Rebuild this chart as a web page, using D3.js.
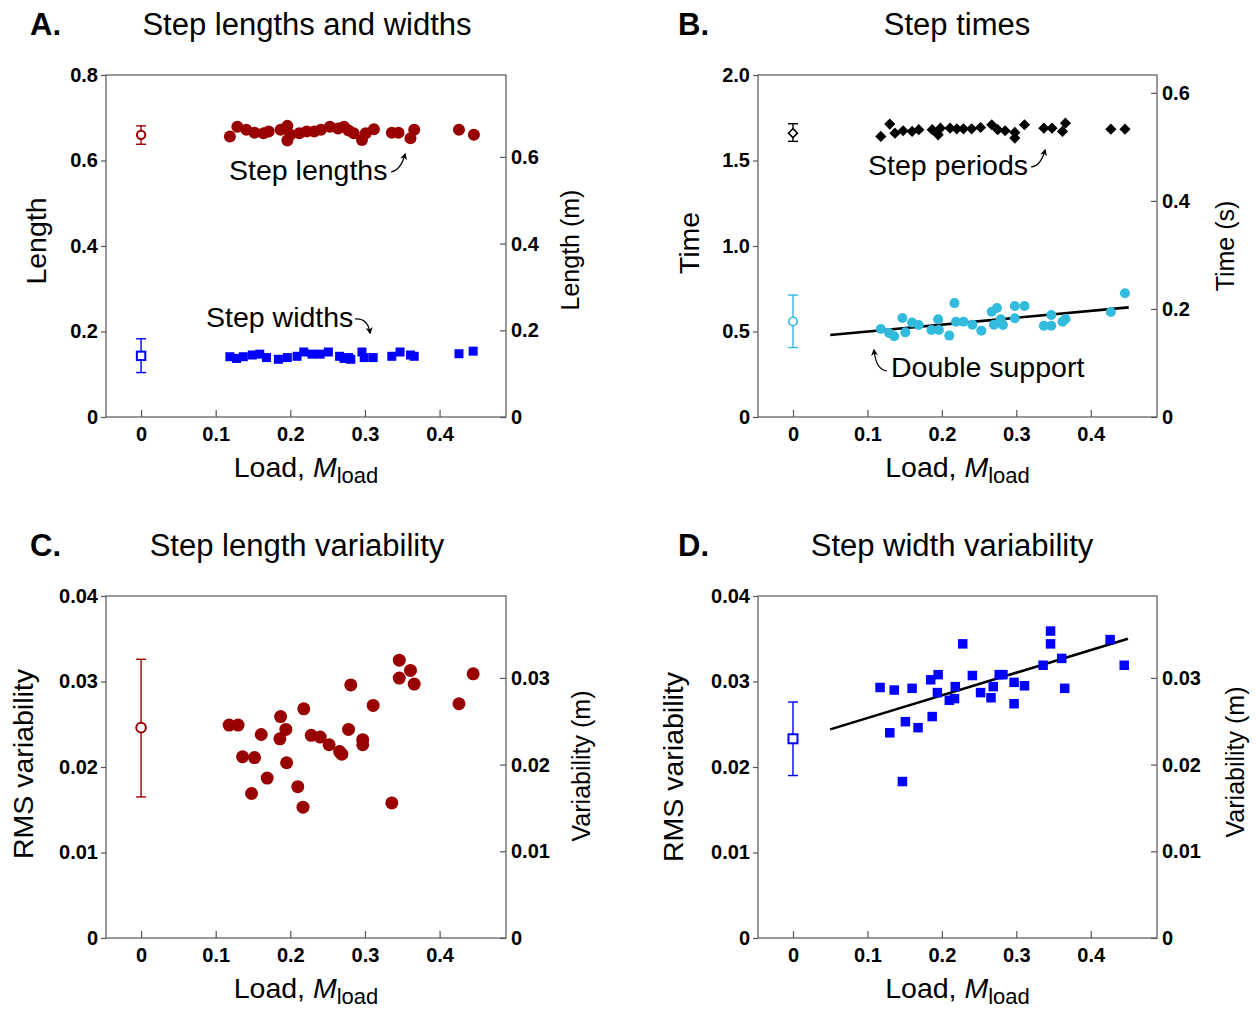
<!DOCTYPE html>
<html>
<head>
<meta charset="utf-8">
<script src="https://cdn.jsdelivr.net/npm/d3@7"></script>
<style>
  html, body { margin: 0; padding: 0; background: #fff; }
  svg { display: block; font-family: "Liberation Sans", Arial, Helvetica, sans-serif; }
</style>
</head>
<body>
<svg id="chart" width="1256" height="1009"></svg>
<script>
// ---------------- Data ----------------
// Panel A: step lengths (normalized) vs load
const lenLoad = [0.119,0.129,0.141,0.152,0.164,0.171,0.187,0.196,0.196,0.200,0.212,0.222,0.232,0.241,0.253,0.264,0.272,0.278,0.285,0.296,0.301,0.312,0.336,0.345,0.361,0.366,0.426,0.446];
const lenVal  = [0.656,0.679,0.672,0.665,0.664,0.668,0.672,0.681,0.647,0.660,0.664,0.668,0.668,0.672,0.679,0.675,0.679,0.670,0.664,0.648,0.664,0.673,0.665,0.665,0.652,0.672,0.672,0.660];
const lenRef  = {mean: 0.660, lo: 0.638, hi: 0.681};
// Panel A: step widths
const widLoad = [0.119,0.128,0.137,0.149,0.159,0.168,0.184,0.196,0.209,0.218,0.229,0.240,0.251,0.266,0.272,0.278,0.281,0.296,0.299,0.311,0.336,0.347,0.361,0.366,0.426,0.445];
const widVal  = [0.141,0.137,0.141,0.145,0.147,0.139,0.135,0.139,0.142,0.152,0.147,0.147,0.152,0.142,0.137,0.139,0.135,0.152,0.139,0.139,0.142,0.152,0.145,0.142,0.148,0.154];
const widRef  = {mean: 0.143, lo: 0.104, hi: 0.183};

// Panel B: step periods
const perLoad = [0.118,0.130,0.137,0.148,0.160,0.169,0.187,0.195,0.198,0.211,0.220,0.229,0.240,0.252,0.267,0.275,0.285,0.298,0.298,0.311,0.337,0.348,0.362,0.366,0.427,0.446];
const perVal  = [1.641,1.713,1.660,1.674,1.670,1.680,1.680,1.650,1.689,1.689,1.685,1.685,1.685,1.693,1.709,1.680,1.674,1.631,1.664,1.709,1.689,1.689,1.670,1.718,1.683,1.683];
const perRef  = {mean: 1.660, lo: 1.612, hi: 1.715};
// Panel B: double support time
const dsLoad = [0.118,0.129,0.136,0.151,0.147,0.160,0.169,0.186,0.196,0.195,0.210,0.217,0.219,0.229,0.241,0.253,0.267,0.274,0.270,0.279,0.282,0.298,0.298,0.311,0.337,0.347,0.347,0.362,0.366,0.427,0.446];
const dsVal  = [0.515,0.491,0.472,0.495,0.579,0.553,0.538,0.509,0.509,0.571,0.476,0.666,0.557,0.557,0.540,0.505,0.616,0.637,0.540,0.571,0.538,0.649,0.577,0.649,0.534,0.534,0.596,0.557,0.573,0.614,0.724];
const dsRef  = {mean: 0.559, lo: 0.406, hi: 0.713};
const dsFit  = [[0.05, 0.480], [0.451, 0.641]];

// Panel C: step length variability
const lvLoad = [0.118,0.130,0.136,0.152,0.148,0.161,0.169,0.187,0.194,0.186,0.195,0.210,0.217,0.218,0.228,0.240,0.252,0.266,0.269,0.278,0.281,0.297,0.297,0.311,0.336,0.346,0.346,0.361,0.366,0.426,0.445];
const lvVal  = [0.0249,0.0249,0.0212,0.0211,0.0169,0.0238,0.0187,0.0259,0.0244,0.0233,0.0205,0.0177,0.0153,0.0268,0.0237,0.0235,0.0226,0.0218,0.0215,0.0244,0.0296,0.0232,0.0226,0.0272,0.0158,0.0325,0.0304,0.0313,0.0297,0.0274,0.0309];
const lvRef  = {mean: 0.0246, lo: 0.0165, hi: 0.0326};

// Panel D: step width variability
const wvLoad = [0.117,0.130,0.136,0.147,0.151,0.160,0.168,0.185,0.187,0.195,0.194,0.210,0.217,0.218,0.228,0.241,0.252,0.266,0.269,0.277,0.282,0.297,0.297,0.311,0.336,0.346,0.346,0.361,0.365,0.426,0.445];
const wvVal  = [0.0293,0.0240,0.0290,0.0183,0.0253,0.0292,0.0246,0.0302,0.0259,0.0308,0.0287,0.0278,0.0280,0.0294,0.0344,0.0307,0.0287,0.0281,0.0294,0.0308,0.0308,0.0299,0.0274,0.0295,0.0319,0.0359,0.0344,0.0327,0.0292,0.0349,0.0319];
const wvRef  = {mean: 0.0233, lo: 0.0190, hi: 0.0276};
const wvFit  = [[0.05, 0.0244], [0.45, 0.0350]];

const xTicks = [0, 0.1, 0.2, 0.3, 0.4];

// ---------------- Drawing helpers ----------------
const svg = d3.select("#chart");
const AXIS_COL = "#555";
const RED = "#990000", BLUE = "#0000ff", CYAN = "#33bbdd", BLACK = "#000";

function panel(cfg) {
  const g = svg.append("g");
  const x = d3.scaleLinear().domain([-0.047, 0.489]).range([cfg.left, cfg.right]);
  const y = d3.scaleLinear().domain(cfg.yDomain).range([cfg.bottom, cfg.top]);
  const y2 = d3.scaleLinear().domain(cfg.y2Domain).range([cfg.bottom, cfg.top]);

  // frame
  g.append("rect")
    .attr("x", cfg.left).attr("y", cfg.top)
    .attr("width", cfg.right - cfg.left).attr("height", cfg.bottom - cfg.top)
    .attr("fill", "none").attr("stroke", AXIS_COL).attr("stroke-width", 1.2);

  // bottom axis (ticks point inward)
  const xa = g.append("g").attr("transform", `translate(0,${cfg.bottom})`)
    .call(d3.axisBottom(x).tickValues(xTicks).tickSizeInner(-7).tickSizeOuter(0)
      .tickFormat(d => d === 0 ? "0" : d3.format(".1f")(d)));
  xa.select(".domain").remove();
  xa.selectAll(".tick line").attr("stroke", AXIS_COL).attr("stroke-width", 1.2);
  xa.selectAll(".tick text").attr("y", 10).attr("dy", "0.71em");

  // left axis (ticks outward)
  const ya = g.append("g").attr("transform", `translate(${cfg.left},0)`)
    .call(d3.axisLeft(y).tickValues(cfg.yTicks).tickSizeInner(5).tickSizeOuter(0)
      .tickFormat(cfg.yFmt));
  ya.select(".domain").remove();
  ya.selectAll(".tick line").attr("stroke", AXIS_COL).attr("stroke-width", 1.2);
  ya.selectAll(".tick text").attr("x", -8);

  // right axis (ticks inward)
  const y2a = g.append("g").attr("transform", `translate(${cfg.right},0)`)
    .call(d3.axisRight(y2).tickValues(cfg.y2Ticks).tickSizeInner(-6).tickSizeOuter(0)
      .tickFormat(cfg.y2Fmt));
  y2a.select(".domain").remove();
  y2a.selectAll(".tick line").attr("stroke", AXIS_COL).attr("stroke-width", 1.2);
  y2a.selectAll(".tick text").attr("x", 5);

  g.selectAll(".tick text")
    .attr("font-family", "'Liberation Sans', Arial, sans-serif")
    .attr("font-size", 20).attr("font-weight", "bold").attr("fill", "#000");

  // titles and labels
  g.append("text").attr("x", cfg.letterX).attr("y", cfg.top - 40)
    .attr("font-size", 31).attr("font-weight", "bold").text(cfg.letter);
  g.append("text").attr("x", cfg.titleX).attr("y", cfg.top - 40)
    .attr("text-anchor", "middle").attr("font-size", 31).text(cfg.title);

  g.append("text")
    .attr("transform", `translate(${cfg.yLabelX},${cfg.yLabelY}) rotate(-90)`)
    .attr("text-anchor", "middle").attr("font-size", 28.5).text(cfg.yLabel);
  g.append("text")
    .attr("transform", `translate(${cfg.y2LabelX},${cfg.y2LabelY}) rotate(-90)`)
    .attr("text-anchor", "middle").attr("font-size", 25).text(cfg.y2Label);

  const xl = g.append("text").attr("x", (cfg.left + cfg.right) / 2).attr("y", cfg.bottom + 60)
    .attr("text-anchor", "middle").attr("font-size", 28.5);
  xl.append("tspan").text("Load, ");
  xl.append("tspan").attr("font-style", "italic").text("M");
  xl.append("tspan").attr("font-size", 22).attr("dy", 6).text("load");

  return {g, x, y};
}

function errorRef(p, ref, color) {
  const cx = p.x(0);
  const g = p.g.append("g").attr("stroke", color).attr("stroke-width", 1.4);
  g.append("line").attr("x1", cx).attr("x2", cx).attr("y1", p.y(ref.lo)).attr("y2", p.y(ref.hi));
  g.append("line").attr("x1", cx - 5).attr("x2", cx + 5).attr("y1", p.y(ref.lo)).attr("y2", p.y(ref.lo));
  g.append("line").attr("x1", cx - 5).attr("x2", cx + 5).attr("y1", p.y(ref.hi)).attr("y2", p.y(ref.hi));
}

function circles(p, xs, ys, color, r) {
  p.g.append("g").selectAll("circle").data(xs.map((d, i) => [d, ys[i]])).join("circle")
    .attr("cx", d => p.x(d[0])).attr("cy", d => p.y(d[1])).attr("r", r).attr("fill", color);
}
function squares(p, xs, ys, color, s) {
  p.g.append("g").selectAll("rect").data(xs.map((d, i) => [d, ys[i]])).join("rect")
    .attr("x", d => p.x(d[0]) - s / 2).attr("y", d => p.y(d[1]) - s / 2)
    .attr("width", s).attr("height", s).attr("fill", color);
}
function diamondPath(cx, cy, h) {
  return `M${cx},${cy - h}L${cx + h},${cy}L${cx},${cy + h}L${cx - h},${cy}Z`;
}
function diamonds(p, xs, ys, color, h) {
  p.g.append("g").selectAll("path").data(xs.map((d, i) => [d, ys[i]])).join("path")
    .attr("d", d => diamondPath(p.x(d[0]), p.y(d[1]), h)).attr("fill", color);
}
function fitLine(p, pts) {
  p.g.append("path").datum(pts)
    .attr("d", d3.line().x(d => p.x(d[0])).y(d => p.y(d[1])))
    .attr("stroke", "#000").attr("stroke-width", 2.6).attr("fill", "none");
}

// arrow marker for annotations
svg.append("defs").append("marker")
  .attr("id", "ah").attr("viewBox", "0 0 10 10").attr("refX", 8).attr("refY", 5)
  .attr("markerWidth", 7).attr("markerHeight", 7).attr("orient", "auto-start-reverse")
  .attr("markerUnits", "userSpaceOnUse")
  .append("path").attr("d", "M0,0L10,5L0,10L3,5Z").attr("fill", "#000");

function note(g, x, y, txt, arrowD) {
  g.append("text").attr("x", x).attr("y", y).attr("font-size", 28.5).text(txt);
  g.append("path").attr("d", arrowD).attr("fill", "none").attr("stroke", "#000")
    .attr("stroke-width", 1.2).attr("marker-end", "url(#ah)");
}

// ---------------- Panel A ----------------
const pA = panel({
  left: 106, right: 506, top: 75, bottom: 417,
  yDomain: [0, 0.8], yTicks: [0, 0.2, 0.4, 0.6, 0.8], yFmt: d => d === 0 ? "0" : d3.format(".1f")(d),
  y2Domain: [0, 0.789], y2Ticks: [0, 0.2, 0.4, 0.6], y2Fmt: d => d === 0 ? "0" : d3.format(".1f")(d),
  letter: "A.", letterX: 30, title: "Step lengths and widths", titleX: 307,
  yLabel: "Length", yLabelX: 46, yLabelY: 241,
  y2Label: "Length (m)", y2LabelX: 579, y2LabelY: 250
});
errorRef(pA, lenRef, RED);
errorRef(pA, widRef, BLUE);
circles(pA, lenLoad, lenVal, RED, 6);
squares(pA, widLoad, widVal, BLUE, 9);
pA.g.append("circle").attr("cx", pA.x(0)).attr("cy", pA.y(lenRef.mean)).attr("r", 4.2)
  .attr("fill", "#fff").attr("stroke", RED).attr("stroke-width", 2);
pA.g.append("rect").attr("x", pA.x(0) - 4.2).attr("y", pA.y(widRef.mean) - 4.2).attr("width", 8.4).attr("height", 8.4)
  .attr("fill", "#fff").attr("stroke", BLUE).attr("stroke-width", 2);
note(pA.g, 229, 180, "Step lengths", "M391,172 Q401,170 405,154");
note(pA.g, 206, 327, "Step widths", "M355,319 Q368,318 370,333");

// ---------------- Panel B ----------------
const pB = panel({
  left: 758, right: 1157, top: 75, bottom: 417,
  yDomain: [0, 2], yTicks: [0, 0.5, 1, 1.5, 2], yFmt: d => d === 0 ? "0" : d3.format(".1f")(d),
  y2Domain: [0, 0.633], y2Ticks: [0, 0.2, 0.4, 0.6], y2Fmt: d => d === 0 ? "0" : d3.format(".1f")(d),
  letter: "B.", letterX: 678, title: "Step times", titleX: 957,
  yLabelX: 699, yLabelY: 243, yLabel: "Time",
  y2Label: "Time (s)", y2LabelX: 1234, y2LabelY: 246
});
errorRef(pB, perRef, BLACK);
errorRef(pB, dsRef, CYAN);
fitLine(pB, dsFit);
circles(pB, dsLoad, dsVal, CYAN, 5);
diamonds(pB, perLoad, perVal, BLACK, 5.6);
pB.g.append("path").attr("d", diamondPath(pB.x(0), pB.y(perRef.mean), 4.5))
  .attr("fill", "#fff").attr("stroke", BLACK).attr("stroke-width", 1.5);
pB.g.append("circle").attr("cx", pB.x(0)).attr("cy", pB.y(dsRef.mean)).attr("r", 4.2)
  .attr("fill", "#fff").attr("stroke", CYAN).attr("stroke-width", 1.6);
note(pB.g, 868, 175, "Step periods", "M1031,167 Q1041,166 1045,150");
note(pB.g, 891, 377, "Double support", "M887,371 Q876,370 874,350");

// ---------------- Panel C ----------------
const vFmt = d => d === 0 ? "0" : d3.format(".2f")(d);
const pC = panel({
  left: 106, right: 506, top: 596, bottom: 938,
  yDomain: [0, 0.04], yTicks: [0, 0.01, 0.02, 0.03, 0.04], yFmt: vFmt,
  y2Domain: [0, 0.03945], y2Ticks: [0, 0.01, 0.02, 0.03], y2Fmt: vFmt,
  letter: "C.", letterX: 30, title: "Step length variability", titleX: 297,
  yLabel: "RMS variability", yLabelX: 33, yLabelY: 764,
  y2Label: "Variability (m)", y2LabelX: 590, y2LabelY: 766
});
errorRef(pC, lvRef, RED);
circles(pC, lvLoad, lvVal, RED, 6.5);
pC.g.append("circle").attr("cx", pC.x(0)).attr("cy", pC.y(lvRef.mean)).attr("r", 4.8)
  .attr("fill", "#fff").attr("stroke", RED).attr("stroke-width", 2);

// ---------------- Panel D ----------------
const pD = panel({
  left: 758, right: 1157, top: 596, bottom: 938,
  yDomain: [0, 0.04], yTicks: [0, 0.01, 0.02, 0.03, 0.04], yFmt: vFmt,
  y2Domain: [0, 0.03945], y2Ticks: [0, 0.01, 0.02, 0.03], y2Fmt: vFmt,
  letter: "D.", letterX: 678, title: "Step width variability", titleX: 952,
  yLabel: "RMS variability", yLabelX: 683, yLabelY: 767,
  y2Label: "Variability (m)", y2LabelX: 1244, y2LabelY: 762
});
errorRef(pD, wvRef, BLUE);
fitLine(pD, wvFit);
squares(pD, wvLoad, wvVal, BLUE, 9.5);
pD.g.append("rect").attr("x", pD.x(0) - 4.5).attr("y", pD.y(wvRef.mean) - 4.5).attr("width", 9).attr("height", 9)
  .attr("fill", "#fff").attr("stroke", BLUE).attr("stroke-width", 2);
</script>
</body>
</html>
